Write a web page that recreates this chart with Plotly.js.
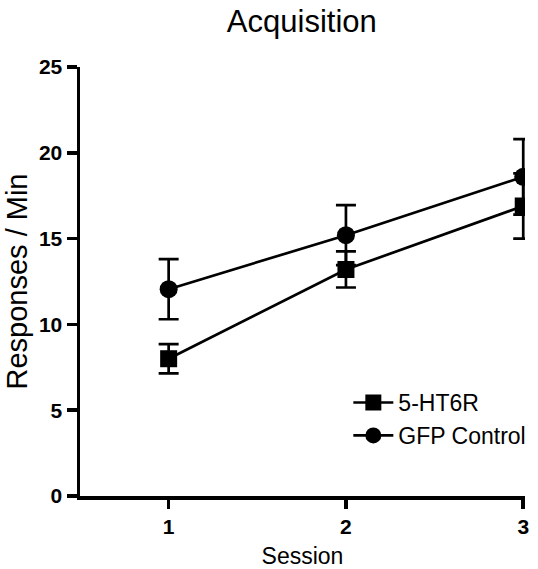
<!DOCTYPE html>
<html>
<head>
<meta charset="utf-8">
<script src="https://cdn.plot.ly/plotly-3.0.1.min.js"></script>
<style>html,body{margin:0;padding:0;background:#fff;}#chart{width:538px;height:569px;}</style>
</head>
<body>
<div id="chart"></div>
<script>
const sessions = [1, 2, 3];
const htrMean = [8.0, 13.2, 16.9];
const htrSem = [0.85, 1.05, 1.9];
const gfpMean = [12.05, 15.2, 18.6];
const gfpSem = [1.75, 1.75, 2.2];
const seriesNames = ['5-HT6R', 'GFP Control'];

const font = 'Arial, "Liberation Sans", sans-serif';
const traces = [
  {
    x: sessions, y: htrMean, name: seriesNames[0], type: 'scatter', mode: 'lines+markers',
    line: {color: '#000', width: 2.7},
    marker: {symbol: 'square', size: 17, color: '#000'},
    error_y: {type: 'data', array: htrSem, visible: true, color: '#000', thickness: 2.7, width: 10}
  },
  {
    x: sessions, y: gfpMean, name: seriesNames[1], type: 'scatter', mode: 'lines+markers',
    line: {color: '#000', width: 2.7},
    marker: {symbol: 'circle', size: 18, color: '#000'},
    error_y: {type: 'data', array: gfpSem, visible: true, color: '#000', thickness: 2.7, width: 10}
  }
];
const layout = {
  width: 538, height: 569,
  margin: {l: 80, r: 13, t: 67, b: 73, autoexpand: false},
  paper_bgcolor: '#fff', plot_bgcolor: '#fff',
  font: {family: font, color: '#000'},
  title: {text: 'Acquisition', font: {size: 31, family: font, color: '#000'}, x: 0.561, xanchor: 'center', y: 0.962, yanchor: 'middle'},
  showlegend: true,
  legend: {x: 0.603, y: 0.268, xanchor: 'left', yanchor: 'top', font: {size: 23, family: font}, bgcolor: 'rgba(0,0,0,0)', itemwidth: 40, tracegroupgap: 4},
  xaxis: {
    range: [0.5, 3.01], tickvals: sessions, ticktext: sessions.map(String),
    showgrid: false, zeroline: false, showline: true, linecolor: '#000', linewidth: 3.5,
    ticks: 'outside', ticklen: 9, tickwidth: 3.5, tickcolor: '#000',
    tickfont: {size: 21, family: font, weight: 'bold'},
    title: {text: 'Session', font: {size: 23, family: font}, standoff: 19}
  },
  yaxis: {
    range: [0, 25], tickvals: [0, 5, 10, 15, 20, 25],
    showgrid: false, zeroline: false, showline: true, linecolor: '#000', linewidth: 3.5,
    ticks: 'outside', ticklen: 10, tickwidth: 3.5, tickcolor: '#000',
    tickfont: {size: 21, family: font, weight: 'bold'},
    title: {text: 'Responses / Min', font: {size: 29, family: font}, standoff: 4}
  }
};
Plotly.newPlot('chart', traces, layout, {displayModeBar: false, staticPlot: true});
</script>
</body>
</html>
